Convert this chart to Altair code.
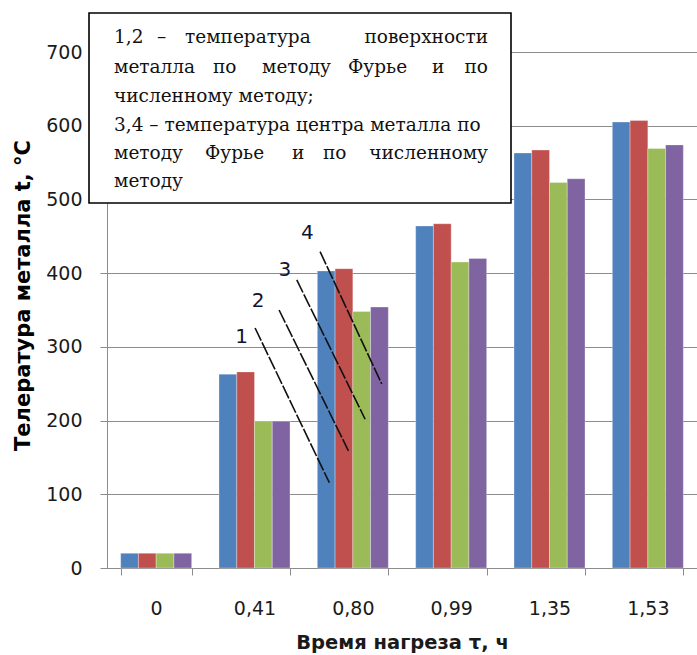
import altair as alt
import pandas as pd

# Heating time, h (category labels on the x axis)
times = ["0", "0,41", "0,80", "0,99", "1,35", "1,53"]
series = ["1", "2", "3", "4"]

# Metal temperature, °C
surface_fourier = [20, 263, 403, 464, 563, 605]   # 1
surface_numeric = [20, 266, 406, 467, 567, 607]   # 2
center_fourier = [20, 199, 348, 415, 523, 569]    # 3
center_numeric = [20, 199, 354, 420, 528, 574]    # 4

colors = ["#4F81BD", "#C0504D", "#9BBB59", "#8064A2"]

rows = []
for s, vals in zip(series, [surface_fourier, surface_numeric, center_fourier, center_numeric]):
    for t, v in zip(times, vals):
        rows.append({"time": t, "series": s, "temp": v})
df = pd.DataFrame(rows)

W, H = 590, 516
PAD = {"left": 107, "top": 52, "right": 0, "bottom": 87}
GRID = "#8c8c8c"
FONT = "DejaVu Sans"
SERIF = "DejaVu Serif"

y_scale = alt.Scale(domain=[0, 700], nice=False, zero=True)

bars = alt.Chart(df).mark_bar(stroke="#ffffff", strokeOpacity=0.5, strokeWidth=0.6).encode(
    x=alt.X(
        "time:N", sort=times,
        scale=alt.Scale(paddingInner=0.278, paddingOuter=0.139),
        axis=alt.Axis(
            title="Время нагреза τ, ч", labelAngle=0, tickBand="extent", grid=False,
            domainColor=GRID, tickColor=GRID, tickSize=7, labelPadding=24,
            labelFont=FONT, labelFontSize=19, labelColor="#1a1a1a",
            titleFont=FONT, titleFontSize=19.5, titleFontWeight="bold", titleColor="#1a1a1a",
            titlePadding=15,
        ),
    ),
    xOffset=alt.XOffset("series:N", sort=series, scale=alt.Scale(paddingInner=0, paddingOuter=0)),
    y=alt.Y(
        "temp:Q", scale=y_scale,
        axis=alt.Axis(
            title="Телература металла t, °С", values=[0, 100, 200, 300, 400, 500, 600, 700],
            grid=True, gridColor=GRID, domainColor=GRID, tickColor=GRID, tickSize=7,
            labelPadding=18, labelFont=FONT, labelFontSize=19, labelColor="#1a1a1a",
            titleFont=FONT, titleFontSize=21, titleFontWeight="bold", titleColor="#000000",
            titlePadding=12, titleY=243,
        ),
    ),
    color=alt.Color("series:N", scale=alt.Scale(domain=series, range=colors), legend=None),
)

# Legend text box in the upper-left corner of the plot
box = alt.Chart(pd.DataFrame({"k": [0]})).mark_rect(
    fill="white", stroke="black", strokeWidth=1.6
).encode(
    x=alt.value(-18), x2=alt.value(404), y=alt.value(-39), y2=alt.value(151)
)

# Justified lines: words anchored left, the last word of a full line anchored right
box_words = [
    ("1,2", 7, -15, "L"), ("–", 50, -15, "L"), ("температура", 78, -15, "L"),
    ("поверхности", 381, -15, "R"),
    ("металла", 7, 15, "L"), ("по", 106, 15, "L"), ("методу", 155, 15, "L"),
    ("Фурье", 241, 15, "L"), ("и", 325, 15, "L"), ("по", 381, 15, "R"),
    ("численному методу;", 7, 44, "L"),
    ("3,4 – температура центра металла по", 7, 73, "L"),
    ("методу", 7, 101, "L"), ("Фурье", 98, 101, "L"), ("и", 185, 101, "L"),
    ("по", 216, 101, "L"), ("численному", 381, 101, "R"),
    ("методу", 7, 129, "L"),
]
box_df = pd.DataFrame(box_words, columns=["word", "px", "py", "side"])


def box_layer(side, align):
    return alt.Chart(box_df).transform_filter(alt.datum.side == side).mark_text(
        align=align, baseline="middle", font=SERIF, fontSize=18.5, color="#111111"
    ).encode(
        x=alt.X("px:Q", scale=None), y=alt.Y("py:Q", scale=None), text="word:N"
    )


box_text_left = box_layer("L", "left")
box_text_right = box_layer("R", "right")

# Numbered leader lines, in (category index, °C) units
leaders = pd.DataFrame({
    "label": ["1", "2", "3", "4"],
    "x": [1.506, 1.750, 1.930, 2.167],
    "y": [325.6, 350.0, 390.8, 429.2],
    "x2": [2.261, 2.455, 2.625, 2.794],
    "y2": [115.7, 159.0, 201.8, 249.7],
    "lx": [1.370, 1.536, 1.810, 2.038],
    "ly": [313.8, 362.7, 404.3, 454.1],
})
idx_scale = alt.Scale(domain=[0, 6], nice=False, zero=False)

leader_lines = alt.Chart(leaders).mark_rule(
    color="#111111", strokeWidth=1.6, strokeDash=[14, 2]
).encode(
    x=alt.X("x:Q", scale=idx_scale, axis=None),
    x2="x2:Q",
    y=alt.Y("y:Q", scale=y_scale),
    y2="y2:Q",
)
leader_labels = alt.Chart(leaders).mark_text(
    font=FONT, fontSize=20, color="#111133", baseline="middle", align="center"
).encode(
    x=alt.X("lx:Q", scale=idx_scale, axis=None),
    y=alt.Y("ly:Q", scale=y_scale),
    text="label:N",
)

chart = alt.layer(
    bars, box, box_text_left, box_text_right, leader_lines, leader_labels
).resolve_scale(x="independent").properties(
    width=W, height=H, padding=PAD, autosize=alt.AutoSizeParams(type="none"),
    background="white",
).configure_view(stroke=None)

chart.save("out.html", embed_options={"renderer": "svg", "actions": False})
